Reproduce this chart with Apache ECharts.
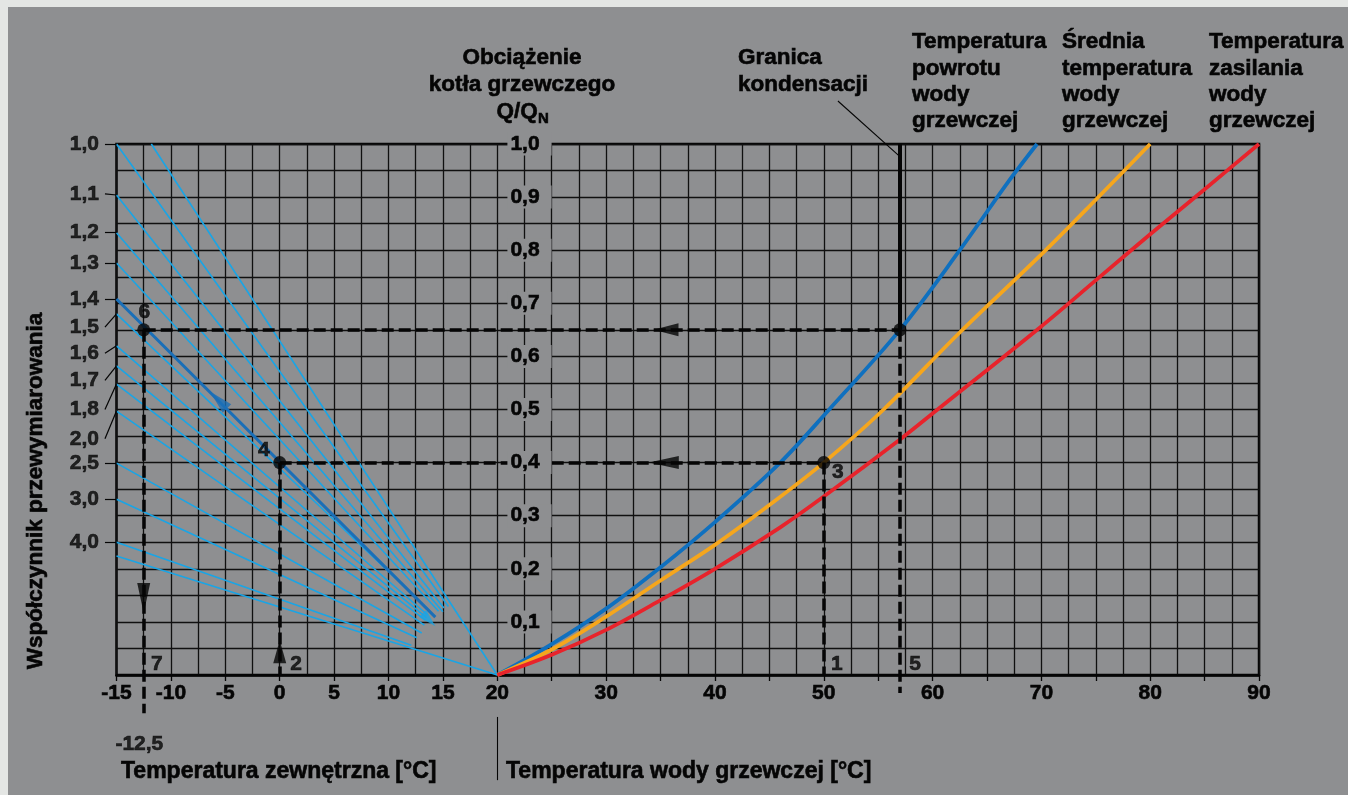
<!DOCTYPE html>
<html>
<head>
<meta charset="utf-8">
<script src="https://cdn.jsdelivr.net/npm/echarts@6.0.0/dist/echarts.min.js"></script>
<style>
  html, body { margin: 0; padding: 0; background: #e4e6e4; }
  #chart {
    position: absolute; left: 0; top: 0; width: 1348px; height: 795px;
    background: linear-gradient(#8e8f91, #8e8f91) 8px 7px / 1340px 788px no-repeat, #e4e6e4;
  }
</style>
</head>
<body>
<div id="chart"></div>
<script>
// ---- x axis tick labels: outdoor temperature (left part) and heating water temperature (right part)
const outdoorTicks = [-15, -10, -5, 0, 5, 10, 15, 20];
const waterTicks = [30, 40, 50, 60, 70, 80, 90];

// ---- oversizing factor scale on the left edge
const factorLabels  = ['1,0', '1,1', '1,2', '1,3', '1,4', '1,5', '1,6', '1,7', '1,8', '2,0', '2,5', '3,0', '4,0'];
const factorLabelAt = [1.000, 0.906, 0.833, 0.776, 0.708, 0.655, 0.606, 0.555, 0.500, 0.445, 0.399, 0.331, 0.250];
const factorLineAt  = [1.000, 0.904, 0.833, 0.776, 0.708, 0.680, 0.620, 0.582, 0.548, 0.497, 0.399, 0.331, 0.250];

// ---- heating characteristic fan: [t start, Q/QN start, t end, Q/QN end]
const fanLines = [
  [-15.0, 1.000, 15.5, 0.129],
  [-11.8, 1.000, 20.0, 0.000],
  [-15.0, 0.904, 15.1, 0.126],
  [-15.0, 0.833, 15.0, 0.119],
  [-15.0, 0.776, 14.6, 0.120],
  [-15.0, 0.680, 13.8, 0.121],
  [-15.0, 0.620, 13.6, 0.113],
  [-15.0, 0.582, 13.5, 0.108],
  [-15.0, 0.548, 13.4, 0.103],
  [-15.0, 0.497, 13.3, 0.094],
  [-15.0, 0.399, 13.05, 0.079],
  [-15.0, 0.331, 12.6, 0.070],
  [-15.0, 0.250, 12.1, 0.056],
  [-15.0, 0.224, 20.0, 0.000]
];
// the highlighted characteristic (factor 1,4)
const designLine = [-15.0, 0.708, 14.3, 0.109];

// ---- water temperatures vs boiler load
const returnTemp = [[20, 0], [25, 0.058], [30, 0.125], [35, 0.203], [40, 0.288], [46, 0.40], [50.5, 0.50],
                    [57, 0.65], [62.5, 0.80], [67, 0.93], [69.6, 1.0]];
const meanTemp   = [[20, 0], [25, 0.048], [30, 0.110], [35, 0.178], [40, 0.245], [45, 0.320], [50, 0.40],
                    [55.5, 0.50], [62.5, 0.645], [70, 0.792], [75, 0.895], [80, 1.0]];
const supplyTemp = [[20, 0], [25, 0.038], [30, 0.085], [35, 0.141], [40, 0.200], [46, 0.278], [50, 0.336],
                    [57.1, 0.445], [60.4, 0.499], [69.9, 0.655], [75.1, 0.745], [80, 0.830], [84.9, 0.913], [90, 1.0]];

// ---- worked example
const condensationLimit = [[57, 0.65], [57, 1.0]];
const readingPoints = [[-12.5, 0.65], [0, 0.40], [50, 0.40], [57, 0.65]];
const guidePaths = [
  [[-12.5, 0.65], [57, 0.65]],
  [[0, 0.40], [50, 0.40]],
  [[50, 0.40], [50, 0]],
  [[57, 0.65], [57, -0.034]],
  [[0, 0.40], [0, 0]],
  [[-12.5, 0.65], [-12.5, -0.072]]
];
const stepNames   = ['1', '2', '3', '4', '5', '6', '7'];
const stepLabelAt = [[51.2, 0.020], [1.5, 0.020], [51.3, 0.381], [-1.45, 0.424], [58.4, 0.020], [-12.45, 0.683], [-11.3, 0.020]];
const designOutdoorTemp = -12.5;

const FONT = '"Liberation Sans", Arial, Helvetica, sans-serif';
const INK = '#050505';
const PANEL = '#8e8f91';
const FAN = '#19a5e6';
const DARK_BLUE = '#1a6fb8';
const fmtDec = v => v.toFixed(1).replace('.', ',');

// heavy black label text
const heavy = { fontWeight: 'bold', color: INK, fontFamily: FONT, textBorderColor: INK, textBorderWidth: 0.6 };
const bold = size => 'bold ' + size + 'px ' + FONT;
function textEl(text, x, y, size, align, extra) {
  return Object.assign({
    type: 'text', x: x, y: y, z: 20,
    style: { text: text, font: bold(size), fill: INK, stroke: INK, lineWidth: 0.6,
             align: align, textAlign: align, verticalAlign: 'middle', textVerticalAlign: 'middle' }
  }, extra || {});
}
function stack(lines, x, y0, size, align, step) {
  return lines.map((t, i) => textEl(t, x, y0 + i * step, size, align));
}

const graphics = [].concat(
  stack(['Obciążenie', 'kotła grzewczego'], 522, 58, 22.5, 'center', 26.5),
  [textEl('Q/Q', 496.5, 112, 22.5, 'left'), textEl('N', 538, 119, 15, 'left')],
  stack(['Granica', 'kondensacji'], 738, 58, 22.5, 'left', 26.5),
  stack(['Temperatura', 'powrotu', 'wody', 'grzewczej'], 912, 42, 22.5, 'left', 26.4),
  stack(['Średnia', 'temperatura', 'wody', 'grzewczej'], 1062, 42, 22.5, 'left', 26.4),
  stack(['Temperatura', 'zasilania', 'wody', 'grzewczej'], 1209, 42, 22.5, 'left', 26.4),
  [
    textEl('Temperatura zewnętrzna [°C]', 121, 772, 23, 'left'),
    textEl('Temperatura wody grzewczej [°C]', 506, 772, 23, 'left'),
    textEl('Współczynnik przewymiarowania', 36, 491, 22.5, 'center', { rotation: Math.PI / 2 })
  ]
);

const labelOnly = {
  type: 'scatter', symbol: 'circle', symbolSize: 0.1, clip: false, z: 12,
  itemStyle: { color: 'rgba(0,0,0,0)' }, silent: true
};

const option = {
  animation: false,
  backgroundColor: 'transparent',
  textStyle: { fontFamily: FONT },
  grid: { left: 116.5, right: 89, top: 144, bottom: 120, show: true,
          borderColor: INK, borderWidth: 2.5, backgroundColor: 'transparent', outerBoundsMode: 'none' },
  xAxis: [
    { type: 'value', min: -15, max: 90, interval: 2.5,
      axisLine: { show: true, onZero: false, lineStyle: { color: INK, width: 2.5 } },
      axisTick: { show: false }, axisLabel: { show: false },
      splitLine: { show: true, lineStyle: { color: '#101010', width: 1.3 } } },
    { type: 'value', min: -15, max: 90, interval: 5, position: 'bottom',
      axisLine: { show: false, onZero: false }, splitLine: { show: false },
      axisTick: { show: true, length: 6, lineStyle: { color: INK, width: 1.3 } },
      axisLabel: Object.assign({ margin: 8, fontSize: 21,
        formatter: v => (outdoorTicks.includes(v) || waterTicks.includes(v)) ? String(v) : '' }, heavy) }
  ],
  yAxis: [
    { type: 'value', min: 0, max: 1, interval: 0.05,
      axisLine: { show: false, onZero: false }, axisTick: { show: false }, axisLabel: { show: false },
      splitLine: { show: true, lineStyle: { color: '#101010', width: 1.3 } } },
    // boiler load scale drawn at 22.5 °C, between the two halves
    { type: 'value', min: 0, max: 1, interval: 0.1, position: 'left', offset: -408.1, z: 10,
      axisLine: { show: false, onZero: false }, axisTick: { show: false }, splitLine: { show: false },
      axisLabel: Object.assign({ margin: -4.9, align: 'center', fontSize: 21, showMinLabel: false,
        backgroundColor: PANEL, padding: [1, 12, 1, 3],
        formatter: v => fmtDec(v) }, heavy) }
  ],
  graphic: graphics,
  series: [
    // fan of heating characteristics
    { type: 'lines', coordinateSystem: 'cartesian2d', xAxisIndex: 0, yAxisIndex: 0, clip: false, z: 3, silent: true,
      lineStyle: { color: FAN, width: 1.6, opacity: 1 },
      data: fanLines.map(([x0, y0, x1, y1]) => ({ coords: [[x0, y0], [x1, y1]] })) },
    { type: 'lines', coordinateSystem: 'cartesian2d', xAxisIndex: 0, yAxisIndex: 0, clip: false, z: 4, silent: true,
      lineStyle: { color: DARK_BLUE, width: 3, opacity: 1 },
      data: [{ coords: [[designLine[0], designLine[1]], [designLine[2], designLine[3]]] }] },
    // oversizing factor ticks and labels
    { type: 'lines', coordinateSystem: 'cartesian2d', xAxisIndex: 0, yAxisIndex: 0, clip: false, z: 3, silent: true,
      lineStyle: { color: INK, width: 1.2, opacity: 1 },
      data: factorLabels.map((t, i) => ({ coords: [[-16.06, factorLabelAt[i]], [-15, factorLineAt[i]]] })) },
    Object.assign({}, labelOnly, {
      data: factorLabels.map((t, i) => [-16.61, factorLabelAt[i]]),
      label: Object.assign({ show: true, position: 'left', distance: 0, fontSize: 21,
               formatter: p => factorLabels[p.dataIndex] }, heavy) }),
    // water temperature curves
    { type: 'line', data: returnTemp, showSymbol: false, smooth: 0.35, z: 5, silent: true,
      lineStyle: { color: '#0f70bf', width: 3.8 } },
    { type: 'line', data: meanTemp, showSymbol: false, smooth: 0.35, z: 5, silent: true,
      lineStyle: { color: '#f6a61c', width: 3.8 } },
    { type: 'line', data: supplyTemp, showSymbol: false, smooth: 0.35, z: 5, silent: true,
      lineStyle: { color: '#e8232b', width: 3.8 } },
    // dashed reading paths
    { type: 'lines', coordinateSystem: 'cartesian2d', xAxisIndex: 0, yAxisIndex: 0, clip: false, z: 6, silent: true,
      lineStyle: { color: INK, width: 3.5, type: [12, 5], opacity: 1 },
      data: guidePaths.map(c => ({ coords: c })) },
    // condensation limit, leader and bottom separator
    { type: 'lines', coordinateSystem: 'cartesian2d', xAxisIndex: 0, yAxisIndex: 0, clip: false, z: 6, silent: true,
      lineStyle: { color: INK, width: 4, opacity: 1 },
      data: [{ coords: condensationLimit }] },
    { type: 'lines', coordinateSystem: 'cartesian2d', xAxisIndex: 0, yAxisIndex: 0, clip: false, z: 6, silent: true,
      lineStyle: { color: INK, width: 1.1, opacity: 1 },
      data: [{ coords: [[51.3, 1.081], [56.9, 0.978]] }, { coords: [[20, -0.079], [20, -0.198]] }] },
    // reading points
    { type: 'scatter', data: readingPoints, symbol: 'circle', symbolSize: 13, z: 8, silent: true,
      itemStyle: { color: INK } },
    // arrowheads
    { type: 'scatter', symbol: 'triangle', z: 8, silent: true, clip: false,
      itemStyle: { color: INK },
      data: [
        { value: [35.5, 0.65], symbolRotate: 90, symbolSize: [13, 25] },
        { value: [35.3, 0.40], symbolRotate: 90, symbolSize: [13, 30] },
        { value: [0, 0.044], symbolRotate: 0, symbolSize: [13, 23] },
        { value: [-12.5, 0.145], symbolRotate: 180, symbolSize: [13, 30] },
        { value: [-5.63, 0.518], symbolRotate: 45, symbolSize: [12, 24], itemStyle: { color: DARK_BLUE } },
        { value: [13.72, 0.104], symbolRotate: -135, symbolSize: [10, 18], itemStyle: { color: FAN } }
      ] },
    // step numbers
    Object.assign({}, labelOnly, {
      data: stepLabelAt,
      label: Object.assign({ show: true, position: 'inside', fontSize: 21,
               formatter: p => stepNames[p.dataIndex] }, heavy) }),
    // design outdoor temperature read in the example
    Object.assign({}, labelOnly, {
      data: [[designOutdoorTemp - 0.4, -0.130]],
      label: Object.assign({ show: true, position: 'inside', fontSize: 21,
               formatter: () => fmtDec(designOutdoorTemp) }, heavy) })
  ]
};

const chart = echarts.init(document.getElementById('chart'), null, { renderer: 'canvas' });
chart.setOption(option);
</script>
</body>
</html>
